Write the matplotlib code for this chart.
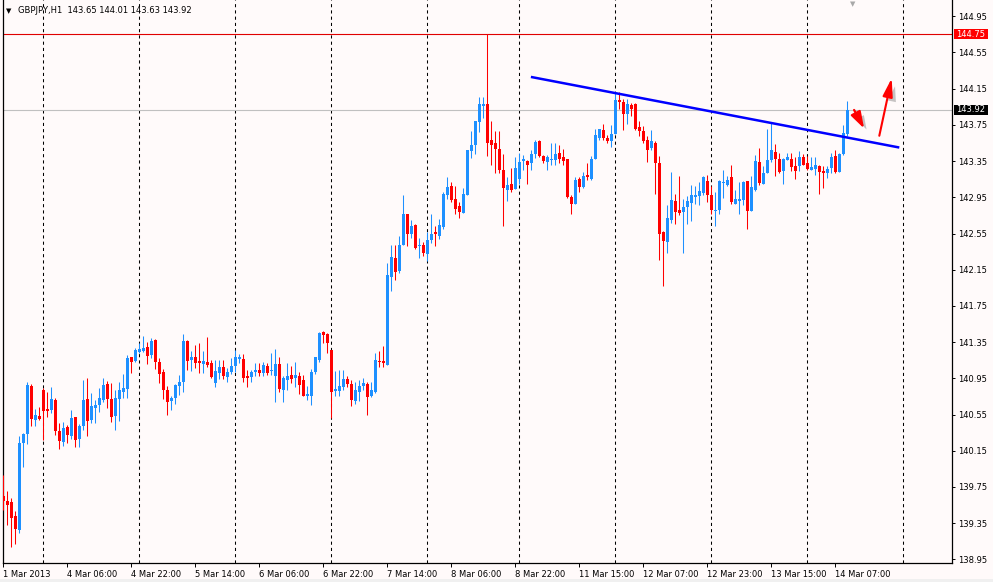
import matplotlib
matplotlib.use("Agg")
import matplotlib.pyplot as plt
import matplotlib.patheffects as pe
from matplotlib.patches import Rectangle, FancyArrowPatch
from matplotlib.transforms import blended_transform_factory
import numpy as np
import pandas as pd

# ---------------- data ----------------
symbol = "GBPJPY,H1"
header_values = ["143.65", "144.01", "143.63", "143.92"]

sessions = [("2013-03-01 14:00", "2013-03-01 23:00"),
            ("2013-03-04 00:00", "2013-03-08 22:00"),
            ("2013-03-11 00:00", "2013-03-15 23:00")]

opens = [139.65,139.59,139.58,139.43,139.27,140.23,140.33,140.87,140.49,140.53,
         140.82,140.61,140.60,140.71,140.37,140.25,140.41,140.31,140.52,140.28,
         140.42,140.72,140.49,140.62,140.66,140.71,140.89,140.72,140.53,140.72,
         140.80,140.83,141.19,141.14,141.24,141.25,141.30,141.21,141.37,141.13,
         141.02,140.82,140.70,140.73,140.86,140.91,141.36,141.15,141.19,141.14,
         141.11,141.13,141.12,140.90,141.01,141.07,140.96,141.02,141.09,141.16,
         141.16,140.97,140.96,141.02,141.04,141.01,141.09,141.03,140.97,141.11,
         140.82,140.93,140.99,140.95,140.98,140.93,140.75,140.76,141.02,141.15,
         141.46,141.44,141.26,140.81,140.81,140.85,140.94,140.89,140.70,140.80,
         140.87,140.89,140.75,140.80,141.14,141.14,141.10,142.07,142.28,142.14,
         142.42,142.77,142.55,142.64,142.41,142.42,142.32,142.48,142.57,142.52,
         142.62,142.97,143.07,142.93,142.85,142.78,142.98,143.46,143.53,143.78,
         143.96,143.98,143.58,143.55,143.48,143.25,143.03,143.10,143.04,143.15,
         143.35,143.35,143.33,143.43,143.57,143.41,143.34,143.36,143.36,143.44,
         143.39,143.37,142.95,142.88,143.15,143.06,143.20,143.15,143.37,143.61,
         143.69,143.61,143.57,143.65,144.03,144.00,143.87,143.97,143.98,143.73,
         143.68,143.58,143.49,143.55,143.33,142.57,142.46,142.70,142.91,142.81,
         142.79,142.84,142.89,142.95,142.96,143.00,143.13,142.97,142.80,142.81,
         143.11,143.09,143.17,142.88,142.91,142.92,143.13,142.80,143.03,143.34,
         143.10,143.22,143.36,143.45,143.37,143.24,143.36,143.37,143.30,143.30,
         143.40,143.33,143.25,143.26,143.30,143.24,143.22,143.27,143.41,143.23,
         143.43,143.65]
highs = [139.88,139.70,139.63,139.48,140.31,140.35,140.91,140.89,140.61,140.63,
         140.84,140.80,140.85,140.73,140.46,140.47,140.43,140.60,140.52,140.45,
         140.93,140.95,140.79,140.71,140.84,140.95,140.92,140.90,140.82,140.91,
         141.00,141.21,141.19,141.29,141.34,141.42,141.35,141.40,141.38,141.17,
         141.05,140.87,140.76,140.89,140.99,141.44,141.37,141.25,141.32,141.34,
         141.25,141.41,141.15,141.15,141.15,141.15,141.06,141.17,141.26,141.22,
         141.22,141.04,141.04,141.12,141.12,141.13,141.12,141.23,141.27,141.19,
         140.97,141.12,141.09,141.13,141.02,140.99,140.87,141.05,141.19,141.46,
         141.47,141.45,141.26,141.03,141.04,141.04,140.97,140.93,140.91,140.93,
         140.95,140.91,140.91,141.23,141.25,141.31,142.22,142.42,142.42,142.52,
         142.97,142.77,142.70,142.66,142.50,142.46,142.57,142.76,142.63,142.71,
         143.01,143.17,143.12,143.08,142.90,143.05,143.47,143.68,143.79,144.06,
         144.06,144.75,143.79,143.68,143.68,143.43,143.17,143.27,143.40,143.44,
         143.42,143.36,143.47,143.58,143.58,143.42,143.42,143.55,143.55,143.53,
         143.48,143.37,142.98,143.17,143.17,143.23,143.33,143.41,143.71,143.71,
         143.76,143.64,143.75,144.11,144.11,144.04,144.04,143.99,143.99,143.79,
         143.74,143.63,143.69,143.57,143.41,142.58,142.87,143.23,142.99,143.19,
         142.93,142.96,143.09,143.07,143.12,143.18,143.20,143.07,143.01,143.14,
         143.25,143.18,143.31,143.03,143.12,143.13,143.13,143.18,143.42,143.49,
         143.30,143.71,143.78,143.54,143.44,143.38,143.44,143.44,143.40,143.46,
         143.43,143.41,143.40,143.39,143.31,143.30,143.30,143.44,143.47,143.44,
         143.75,144.01]
lows = [139.49,139.33,139.09,139.12,139.24,139.97,140.22,140.42,140.42,140.49,
        140.27,140.52,140.57,140.32,140.17,140.20,140.24,140.28,140.19,140.19,
        140.38,140.31,140.46,140.46,140.58,140.69,140.62,140.47,140.38,140.48,
        140.73,140.73,141.01,141.13,141.23,141.24,141.11,141.17,141.05,140.90,
        140.72,140.55,140.60,140.67,140.77,140.80,141.04,141.03,141.06,141.01,
        141.01,141.07,140.95,140.85,140.94,140.94,140.91,141.00,141.02,141.12,
        140.91,140.85,140.91,140.97,140.98,140.98,140.99,140.99,140.69,140.80,
        140.69,140.82,140.90,140.85,140.78,140.75,140.71,140.66,141.00,141.13,
        141.34,141.23,140.51,140.76,140.75,140.82,140.85,140.64,140.67,140.70,
        140.82,140.55,140.74,140.79,141.08,141.08,141.10,141.91,142.04,142.11,
        142.42,142.41,142.50,142.38,142.28,142.30,142.25,142.44,142.41,142.49,
        142.60,142.93,142.90,142.77,142.72,142.78,142.98,143.38,143.43,143.67,
        143.83,143.41,143.31,143.22,143.22,142.63,142.91,143.01,143.04,143.10,
        143.25,143.10,143.25,143.38,143.40,143.33,143.25,143.31,143.31,143.33,
        143.31,142.94,142.77,142.88,143.01,143.05,143.14,143.14,143.37,143.58,
        143.58,143.55,143.51,143.65,143.93,143.69,143.76,143.85,143.69,143.63,
        143.55,143.34,143.47,142.99,142.26,141.97,142.33,142.67,142.66,142.75,
        142.34,142.66,142.69,142.88,142.87,142.98,142.90,142.77,142.63,142.76,
        142.94,143.07,142.88,142.88,142.76,142.87,142.60,142.80,143.02,143.09,
        143.10,143.22,143.34,143.19,143.22,143.10,143.36,143.24,143.15,143.24,
        143.31,143.25,143.25,143.20,142.99,143.05,143.16,143.22,143.22,143.23,
        143.42,143.63]
closes = [139.59,139.55,139.41,139.29,140.24,140.33,140.88,140.50,140.54,140.50,
          140.59,140.59,140.72,140.37,140.26,140.40,140.32,140.51,140.27,140.42,
          140.71,140.48,140.64,140.66,140.73,140.88,140.72,140.52,140.73,140.82,
          140.84,141.17,141.13,141.26,141.27,141.29,141.20,141.36,141.13,141.00,
          140.82,140.69,140.73,140.88,140.91,141.36,141.14,141.18,141.12,141.12,
          141.14,141.10,140.96,141.03,141.07,140.97,141.02,141.09,141.18,141.18,
          140.95,140.95,141.02,141.04,141.01,141.10,141.01,141.04,141.11,140.83,
          140.95,140.98,140.94,140.99,140.88,140.76,140.78,141.02,141.18,141.45,
          141.43,141.34,140.80,140.83,140.86,140.94,140.89,140.71,140.82,140.87,
          140.90,140.74,140.82,141.15,141.13,141.12,142.09,142.29,142.13,142.42,
          142.76,142.55,142.63,142.39,142.42,142.34,142.48,142.55,142.54,142.64,
          142.99,143.06,142.92,142.82,142.79,142.99,143.47,143.53,143.79,143.98,
          143.98,143.55,143.53,143.48,143.25,143.05,143.09,143.03,143.27,143.34,
          143.37,143.31,143.43,143.56,143.41,143.35,143.39,143.37,143.43,143.37,
          143.35,142.95,142.88,143.14,143.06,143.19,143.17,143.37,143.64,143.71,
          143.60,143.57,143.65,144.02,144.00,143.87,143.98,143.93,143.71,143.68,
          143.57,143.47,143.57,143.33,142.55,142.47,142.72,142.92,142.79,142.78,
          142.84,142.91,142.97,142.97,143.02,143.17,142.97,142.81,142.81,143.13,
          143.12,143.14,142.90,142.93,142.93,143.12,142.80,143.06,143.35,143.11,
          143.22,143.36,143.47,143.37,143.23,143.37,143.39,143.29,143.24,143.40,
          143.31,143.26,143.28,143.31,143.23,143.22,143.26,143.40,143.23,143.43,
          143.66,143.92]

high_line = 144.75      # red horizontal line (highest price)
bid_line = 143.92       # current bid line
y_ticks = [138.95, 139.35, 139.75, 140.15, 140.55, 140.95, 141.35, 141.75,
           142.15, 142.55, 142.95, 143.35, 143.75, 144.15, 144.55, 144.95]

# trendline (bar index, price) and drawn arrows
trend_x = [131.9, 224.0]
trend_y = [144.28, 143.50]
arrow_small = [(212.7, 143.915), (215.2, 143.71)]
arrow_big = [(219.0, 143.63), (222.1, 144.265)]

# ---------------- build time axis ----------------
times = []
for a, b in sessions:
    times.extend(pd.date_range(a, b, freq="h"))
n = len(opens)
idx = np.arange(n)
day_starts = [i for i, t in enumerate(times) if t.hour == 0 and i > 0]
tick_pos = list(range(0, n, 16))
tick_labels = []
for k in tick_pos:
    t = times[k]
    if k == 0:
        tick_labels.append(f"{t.day} {t:%b %Y}")
    else:
        tick_labels.append(f"{t.day} {t:%b %H:%M}")

# ---------------- figure ----------------
plt.rcParams["font.family"] = ["DejaVu Sans"]
plt.rcParams["font.size"] = 6
BG = "#FFFAFA"
W, H = 993, 582
fig = plt.figure(figsize=(W / 100, H / 100), dpi=100, facecolor=BG)
left_px, right_px, bottom_px = 2.5, 951.7, 563.3
ax = fig.add_axes([left_px / W, (H - bottom_px) / H, (right_px - left_px) / W, bottom_px / H])
ax.set_facecolor(BG)

px_per_bar = 4.0
xmin = -0.2
xmax = xmin + (right_px - left_px) / px_per_bar
ax.set_xlim(xmin, xmax)
ymin, ymax = 138.906, 145.130
ax.set_ylim(ymin, ymax)

# period separators
for d in day_starts:
    if d < xmax:
        ax.axvline(d, color="black", lw=0.75, ls=(0, (3, 3)), zorder=1)

# horizontal lines
ax.axhline(high_line, color="#E00000", lw=0.8, zorder=2)
ax.axhline(bid_line, color="#C0C0C0", lw=0.8, zorder=2)

# candles
o = np.array(opens); h = np.array(highs); l = np.array(lows); c = np.array(closes)
up = c >= o
cols = np.where(up, "#1E90FF", "#FF0000")
ax.vlines(idx, l, h, colors=cols, lw=0.75, zorder=3)
body_bottom = np.minimum(o, c)
body_h = np.maximum(np.abs(c - o), 0.012)
ax.bar(idx, body_h, bottom=body_bottom, width=0.75, color=cols, linewidth=0, zorder=4)

# trendline
ax.plot(trend_x, trend_y, color="#0000FF", lw=1.8, zorder=5, solid_capstyle="butt")

# arrows (hand-drawn red arrows with soft shadow)
shadow = [pe.withSimplePatchShadow(offset=(3, -3), shadow_rgbFace="#707070", alpha=0.4)]
for (p0, p1), hl, hw, lw in [(arrow_small, 10, 3.2, 1.6), (arrow_big, 11, 3.0, 1.5)]:
    arr = FancyArrowPatch(p0, p1, arrowstyle=f"-|>,head_length={hl},head_width={hw}",
                          color="#FF0000", lw=lw, mutation_scale=1, zorder=6,
                          shrinkA=0, shrinkB=0)
    arr.set_path_effects(shadow)
    ax.add_patch(arr)

# axes styling
ax.spines["top"].set_visible(False)
for s in ["left", "right", "bottom"]:
    ax.spines[s].set_color("black")
    ax.spines[s].set_linewidth(0.9)

ax.yaxis.tick_right()
ax.set_yticks(y_ticks)
ax.set_yticklabels([f"{v:.2f}" for v in y_ticks])
ax.tick_params(axis="y", direction="out", length=2.5, width=0.7, pad=2, labelsize=6, colors="black")
ax.set_xticks(tick_pos)
ax.set_xticklabels(tick_labels)
for lab in ax.get_xticklabels():
    lab.set_ha("left")
ax.tick_params(axis="x", direction="out", length=3, width=0.7, pad=1.5, labelsize=6, colors="black")

# price tags on axis
btrans = blended_transform_factory(ax.transAxes, ax.transData)
tag_w = 34 / (right_px - left_px)
tag_h = 10 / (bottom_px / (ymax - ymin))
for val, fc in [(high_line, "#FF0000"), (bid_line, "#000000")]:
    x0 = 1 + 2.3 / (right_px - left_px)
    ax.add_patch(Rectangle((x0, val - tag_h / 2), tag_w, tag_h, transform=btrans,
                           facecolor=fc, edgecolor="none", clip_on=False, zorder=10))
    ax.text(x0 + tag_w / 2, val, f"{val:.2f}", transform=btrans, ha="center", va="center",
            color="white", fontsize=6, zorder=11, clip_on=False)

# header
fig.text(6 / W, 1 - 10.8 / H, "\u25BC", fontsize=5, color="black", va="center", ha="left")
fig.text(18 / W, 1 - 10.8 / H, f"{symbol}  " + " ".join(header_values),
         fontsize=6, color="black", va="center", ha="left")
# chart shift marker
fig.text(853 / W, 1 - 4.5 / H, "\u25BC", fontsize=5, color="#A8A8A8", va="center", ha="center")

# bottom window strip
fig.patches.append(Rectangle((0, 0), 1, 3 / H, transform=fig.transFigure,
                             facecolor="#F0F0F0", edgecolor="none"))

fig.savefig("out.png", dpi=100, facecolor=BG)
